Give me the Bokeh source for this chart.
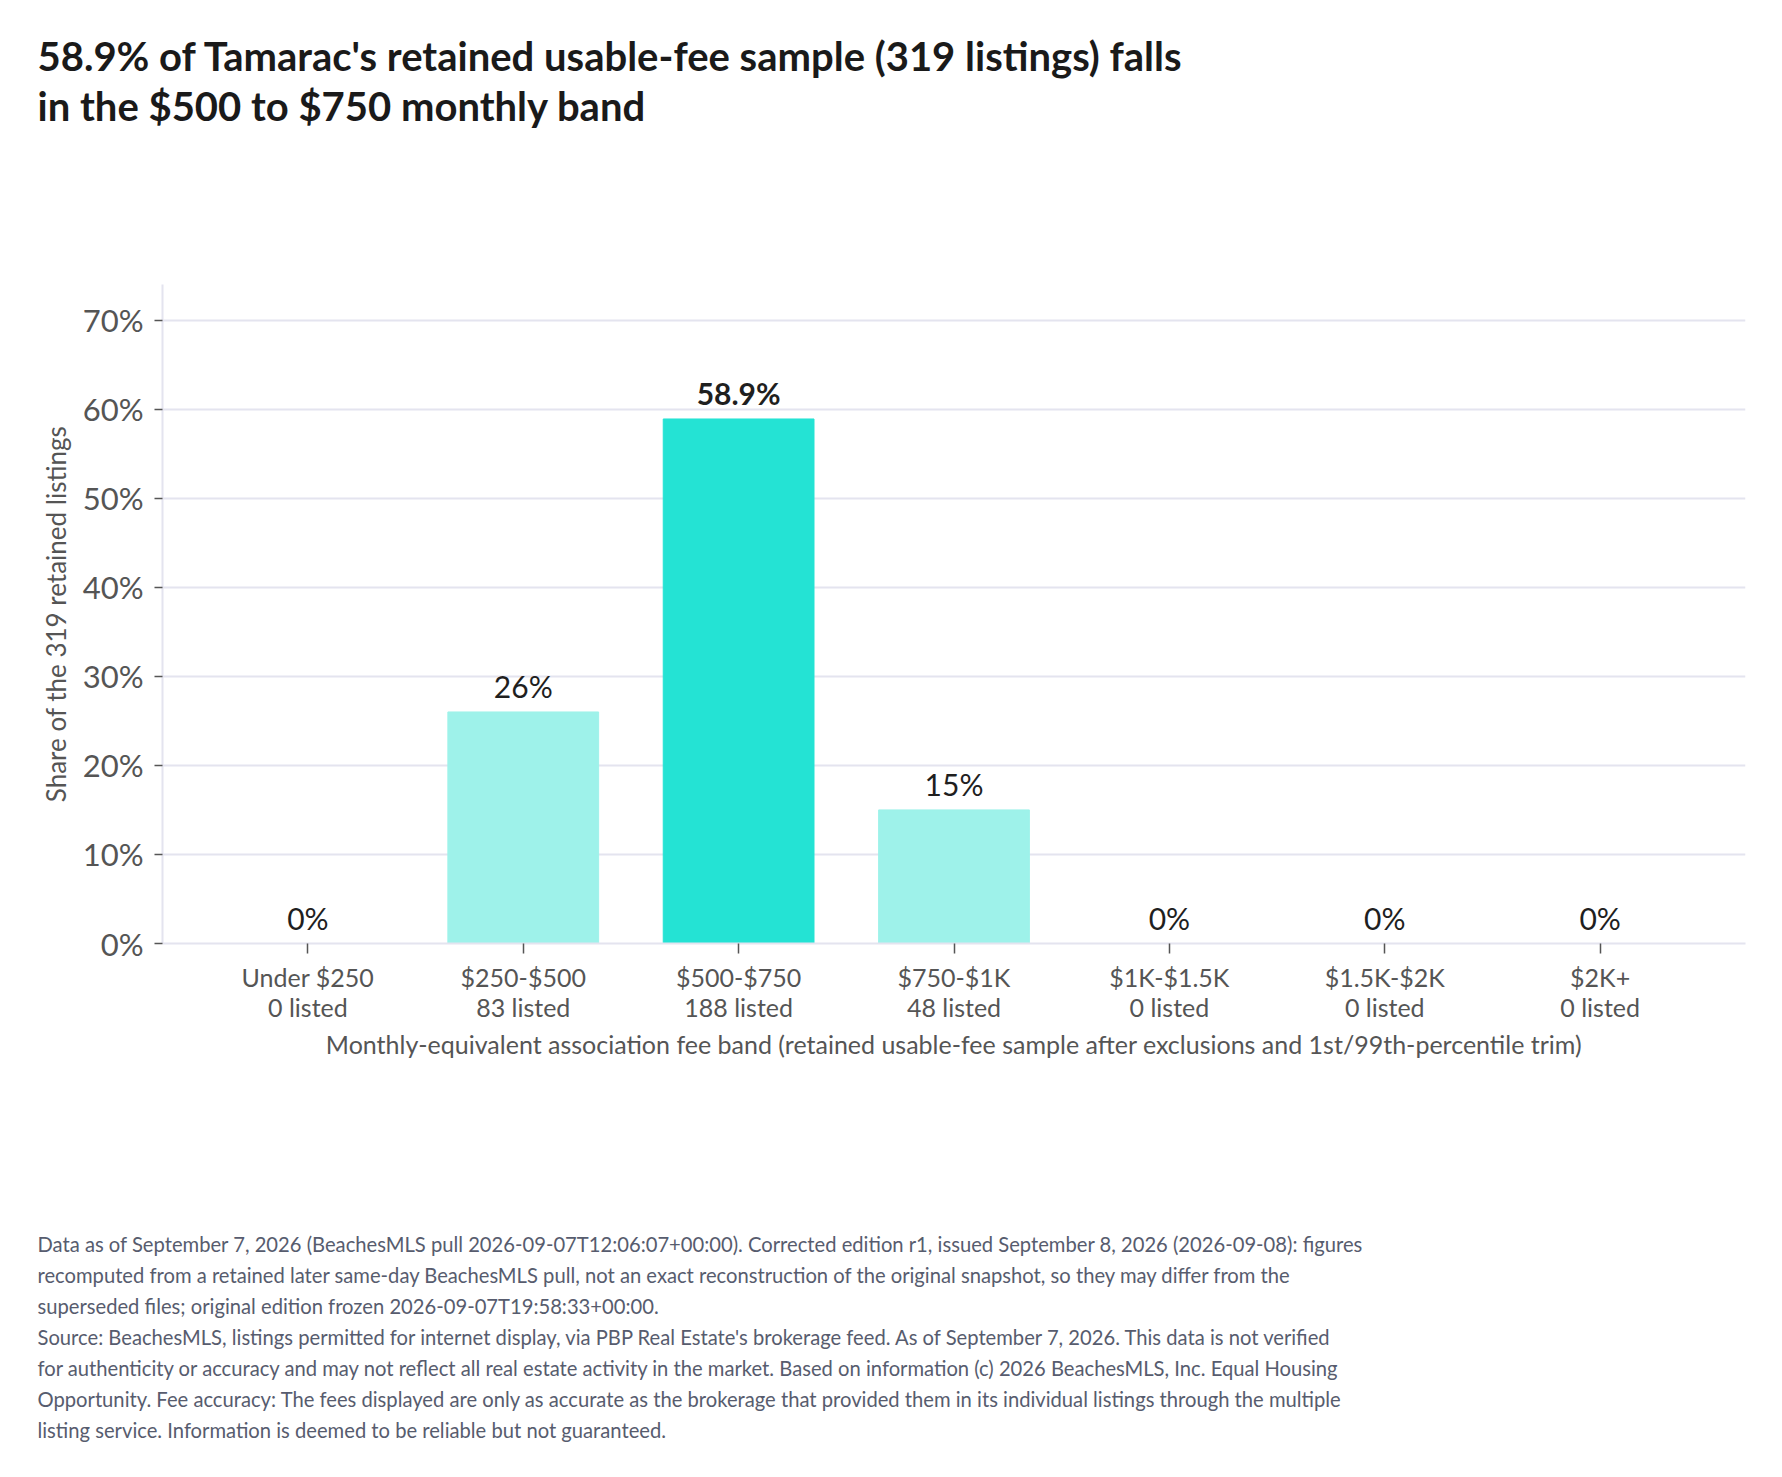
from bokeh.core.properties import value
from bokeh.embed import file_html
from bokeh.models import (CategoricalAxis, ColumnDataSource, CustomJSTickFormatter, FactorRange,
                          FixedTicker, Title)
from bokeh.plotting import figure
from bokeh.resources import INLINE

bands = ["Under $250", "$250-$500", "$500-$750", "$750-$1K", "$1K-$1.5K", "$1.5K-$2K", "$2K+"]
counts = [0, 83, 188, 48, 0, 0, 0]
shares = [0.0, 26.0, 58.9, 15.0, 0.0, 0.0, 0.0]
share_labels = ["0%", "26%", "58.9%", "15%", "0%", "0%", "0%"]
highlight = "$500-$750"
y_ticks = [0, 10, 20, 30, 40, 50, 60, 70]

title_lines = [
    "58.9% of Tamarac's retained usable-fee sample (319 listings) falls",
    "in the $500 to $750 monthly band",
]
note_lines = [
    "Data as of September 7, 2026 (BeachesMLS pull 2026-09-07T12:06:07+00:00). Corrected edition r1, issued September 8, 2026 (2026-09-08): figures",
    "recomputed from a retained later same-day BeachesMLS pull, not an exact reconstruction of the original snapshot, so they may differ from the",
    "superseded files; original edition frozen 2026-09-07T19:58:33+00:00.",
    "Source: BeachesMLS, listings permitted for internet display, via PBP Real Estate's brokerage feed. As of September 7, 2026. This data is not verified",
    "for authenticity or accuracy and may not reflect all real estate activity in the market. Based on information (c) 2026 BeachesMLS, Inc. Equal Housing",
    "Opportunity. Fee accuracy: The fees displayed are only as accurate as the brokerage that provided them in its individual listings through the multiple",
    "listing service. Information is deemed to be reliable but not guaranteed.",
]

FONT = "Lato"
GRID = "#e4e4ef"
LABEL_GRAY = "#555555"

colors = ["#24e3d4" if b == highlight else "#9ef2ea" for b in bands]
label_font_style = ["bold" if b == highlight else "normal" for b in bands]
source = ColumnDataSource(dict(
    band=bands, share=shares, label=share_labels, color=colors, fstyle=label_font_style,
))

p = figure(
    x_range=FactorRange(*bands, range_padding=0.05),
    y_range=(0, 74),
    width=1766, height=1460,
    output_backend="svg", toolbar_location=None,
    min_border_left=162, min_border_right=21, min_border_top=284, min_border_bottom=517,
)
p.outline_line_color = None

p.vbar(x="band", top="share", width=0.7, color="color", source=source)
p.text(x="band", y="share", text="label", source=source,
       text_font=value(FONT), text_font_size="30px", text_font_style="fstyle",
       text_color="#1f1f1f", text_align="center", text_baseline="bottom", y_offset=-8)

p.yaxis.ticker = FixedTicker(ticks=y_ticks)
p.yaxis.major_label_overrides = {v: f"{v}%" for v in y_ticks}

for ax in (p.xaxis[0], p.yaxis[0]):
    ax.axis_line_color = GRID
    ax.axis_line_width = 2
    ax.major_tick_line_color = LABEL_GRAY
    ax.major_tick_line_width = 1.5
    ax.major_tick_in = 0
    ax.minor_tick_line_color = None
    ax.axis_label_text_font = FONT
    ax.axis_label_text_font_style = "normal"
    ax.axis_label_text_color = LABEL_GRAY
    ax.axis_label_text_font_size = "25px"
    ax.major_label_text_font = FONT
    ax.major_label_text_color = LABEL_GRAY

p.yaxis.major_tick_out = 8
p.yaxis.major_label_standoff = 11
p.yaxis.major_label_text_font_size = "31px"
p.yaxis.axis_label = "Share of the 319 retained listings"
p.yaxis.axis_label_text_font_size = "26px"
p.yaxis.axis_label_standoff = 8

p.xaxis.major_tick_out = 10
p.xaxis.major_label_text_font_size = "25px"
p.xaxis.major_label_standoff = 8

# second row of category labels: listing counts
count_axis = CategoricalAxis(
    formatter=CustomJSTickFormatter(args=dict(b=bands, c=counts),
                                    code="return c[b.indexOf(tick)] + ' listed'"),
    axis_line_color=None, major_tick_line_color=None, minor_tick_line_color=None,
    major_tick_out=0, major_tick_in=0,
    major_label_standoff=-3, major_label_text_font=FONT, major_label_text_font_size="25px",
    major_label_text_color=LABEL_GRAY,
    axis_label="Monthly-equivalent association fee band (retained usable-fee sample after exclusions and 1st/99th-percentile trim)",
    axis_label_text_font=FONT, axis_label_text_font_style="normal",
    axis_label_text_font_size="25px", axis_label_text_color=LABEL_GRAY, axis_label_standoff=4,
)
p.add_layout(count_axis, "below")

p.xgrid.grid_line_color = None
p.ygrid.grid_line_color = GRID
p.ygrid.grid_line_width = 2

# headline: panels stack outward from the frame (blank spacer first)
p.add_layout(Title(text=" ", text_font_size="10px", standoff=142), "above")
for line in reversed(title_lines):
    p.add_layout(Title(text=line, align="left", offset=-125, standoff=0,
                       text_font=FONT, text_font_size="40px", text_font_style="bold",
                       text_color="#1a1a1a"), "above")

# footnote
p.add_layout(Title(text=" ", text_font_size="10px", standoff=153), "below")
for line in note_lines:
    p.add_layout(Title(text=line, align="left", offset=-125, standoff=5,
                       text_font=FONT, text_font_size="20.2px", text_font_style="normal",
                       text_color="#575c6e"), "below")

open("out.html", "w").write(file_html(p, INLINE))
